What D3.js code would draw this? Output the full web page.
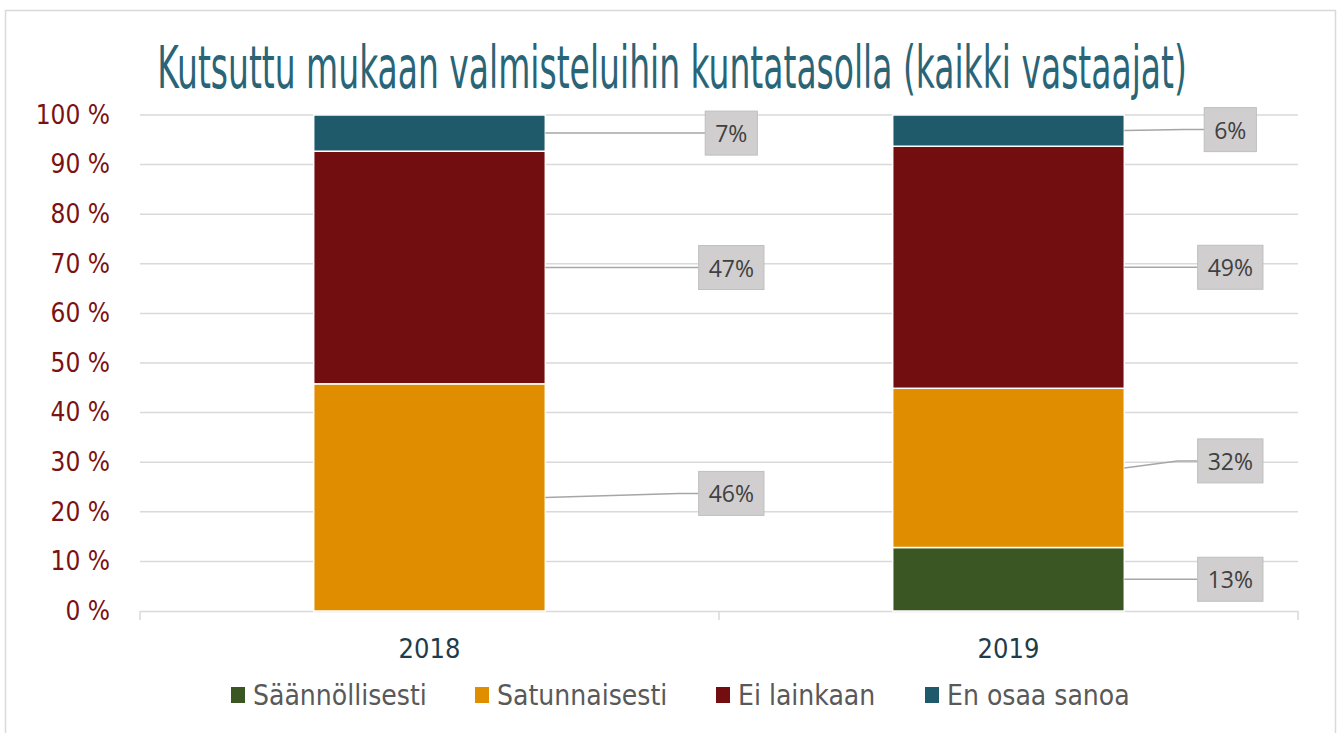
<!DOCTYPE html>
<html><head><meta charset="utf-8">
<script src="https://cdn.jsdelivr.net/npm/d3@7"></script>
<style>
body{margin:0;background:#fff;}
svg{display:block;}
</style></head>
<body>
<svg id="chart" width="1341" height="733"></svg>
<script>
const categories = ["2018", "2019"];
const seriesNames = ["Säännöllisesti", "Satunnaisesti", "Ei lainkaan", "En osaa sanoa"];
const saannollisesti = [0, 12.8];
const satunnaisesti = [45.8, 32.1];
const eiLainkaan = [46.9, 48.8];
const enOsaaSanoa = [7.3, 6.3];
const tickValues = [0, 10, 20, 30, 40, 50, 60, 70, 80, 90, 100];
const titleText = "Kutsuttu mukaan valmisteluihin kuntatasolla (kaikki vastaajat)";

const colors = ["#3a5623", "#e08e00", "#730e10", "#1f5a6b"];
const narrow = "'Liberation Sans Narrow','DejaVu Sans Condensed','Roboto Condensed',sans-serif";

const svg = d3.select("#chart");
const W = 1341, H = 733;
const m = {left: 140, right: 43, top: 115, bottom: 122};

// chart border
svg.append("rect").attr("x", 5.5).attr("y", 10.5).attr("width", 1330).attr("height", 740)
  .attr("fill", "none").attr("stroke", "#d9d9d9").attr("stroke-width", 1.5);

const x = d3.scaleBand().domain(categories).range([m.left, W - m.right]).paddingInner(0.6).paddingOuter(0.3);
const y = d3.scaleLinear().domain([0, 100]).range([H - m.bottom, m.top]);

// gridlines
svg.append("g").selectAll("line").data(tickValues.filter(t => t > 0)).join("line")
  .attr("x1", m.left).attr("x2", W - m.right)
  .attr("y1", d => y(d)).attr("y2", d => y(d))
  .attr("stroke", "#d9d9d9").attr("stroke-width", 1.5);

// y axis labels
const yAxis = d3.axisLeft(y).tickValues(tickValues).tickFormat(d => d + " %").tickSize(0).tickPadding(30);
const gy = svg.append("g").attr("transform", `translate(${m.left},0)`).call(yAxis);
gy.select(".domain").remove();
gy.selectAll("text").attr("fill", "#7a1214").style("font-family", narrow).style("font-size", "26px");

// x axis
const xAxis = d3.axisBottom(x).tickSize(0).tickPadding(28);
const gx = svg.append("g").attr("transform", `translate(0,${y(0)})`).call(xAxis);
gx.select(".domain").attr("stroke", "#d9d9d9").attr("stroke-width", 1.5);
gx.selectAll("text").attr("fill", "#1f3c4c").style("font-family", narrow).style("font-size", "27px");
const sepX = [m.left, (m.left + W - m.right) / 2, W - m.right];
gx.selectAll("line.sep").data(sepX).join("line").attr("class", "sep")
  .attr("x1", d => d).attr("x2", d => d).attr("y1", 0).attr("y2", 9)
  .attr("stroke", "#d9d9d9").attr("stroke-width", 1.5);

// stacked data
const rows = categories.map((c, i) => ({
  cat: c,
  [seriesNames[0]]: saannollisesti[i],
  [seriesNames[1]]: satunnaisesti[i],
  [seriesNames[2]]: eiLainkaan[i],
  [seriesNames[3]]: enOsaaSanoa[i]
}));
const stack = d3.stack().keys(seriesNames)(rows);

svg.append("g").selectAll("g").data(stack).join("g")
  .attr("fill", (d, i) => colors[i])
  .selectAll("rect").data(d => d.filter(s => s[1] - s[0] > 0)).join("rect")
  .attr("x", d => x(d.data.cat))
  .attr("width", x.bandwidth())
  .attr("y", d => y(d[1]))
  .attr("height", d => y(d[0]) - y(d[1]))
  .attr("stroke", "#fff").attr("stroke-width", 1.5);

// data labels with leader lines (label placement offsets, in px)
const labelDx = {"2018": 186, "2019": 106};
const labelDy = {"2018": [0, -4, 0, 0], "2019": [0, -7, 0, -1]};
const labelG = svg.append("g");
stack.forEach((ser, si) => {
  ser.forEach(s => {
    const v = s[1] - s[0];
    if (v <= 0) return;
    const cat = s.data.cat;
    const x0 = x(cat) + x.bandwidth();
    const yMid = y((s[0] + s[1]) / 2);
    const cx = x0 + labelDx[cat];
    const ly = yMid + labelDy[cat][si];
    const txt = Math.round(v) + "%";
    const t = labelG.append("text").attr("x", cx).attr("y", ly)
      .attr("text-anchor", "middle").attr("dominant-baseline", "central")
      .attr("fill", "#404040").style("font-family", "'Open Sans','DejaVu Sans',sans-serif").style("font-size", "23px")
      .text(txt);
    const bw = t.node().getComputedTextLength() + 20, bh = 44;
    const bx = cx - bw / 2;
    labelG.insert("path", "text")
      .attr("d", `M${x0},${yMid}L${bx - 20},${ly}L${bx},${ly}`)
      .attr("fill", "none").attr("stroke", "#a6a6a6").attr("stroke-width", 1.5);
    labelG.insert("rect", "text").attr("x", bx).attr("y", ly - bh / 2).attr("width", bw).attr("height", bh)
      .attr("fill", "#d0cece").attr("stroke", "#bfbfbf").attr("stroke-width", 1);
  });
});

// title
const title = svg.append("text").attr("text-anchor", "middle")
  .attr("fill", "#2a6577").style("font-family", narrow).style("font-size", "58px")
  .text(titleText);
const natW = title.node().getComputedTextLength();
const sx = 1030 / natW;
title.attr("transform", `translate(672,88) scale(${sx},1)`);

// legend
const legendX = [231, 475, 716, 925];
const lg = svg.append("g").selectAll("g").data(seriesNames).join("g")
  .attr("transform", (d, i) => `translate(${legendX[i]},695)`);
lg.append("rect").attr("x", 0).attr("y", -8).attr("width", 14).attr("height", 16).attr("fill", (d, i) => colors[i]);
lg.append("text").attr("x", 22).attr("y", 0).attr("dominant-baseline", "central")
  .attr("fill", "#595959").style("font-family", narrow).style("font-size", "28px").text(d => d);
</script>
</body></html>
